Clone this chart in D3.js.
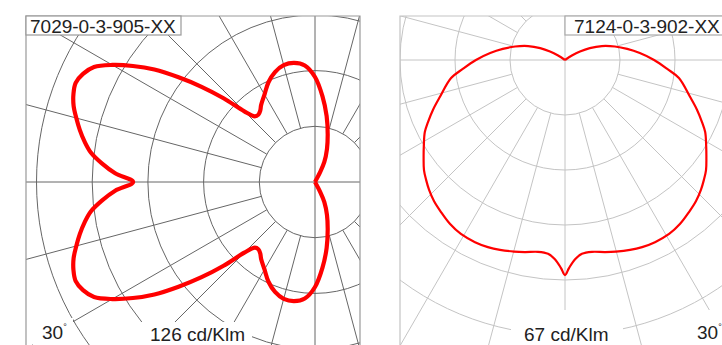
<!DOCTYPE html>
<html><head><meta charset="utf-8">
<script src="https://cdn.jsdelivr.net/npm/d3@7"></script>
<style>body{margin:0;background:#fff}svg{display:block}</style>
</head><body>
<svg id="chart" width="722" height="345"></svg>
<script>
// ---------- DATA ----------
// Left luminaire 7029-0-3-905-XX : gamma (deg, 0 = symmetry axis) -> cd/klm
const leftTitle = "7029-0-3-905-XX";
const leftScaleLabel = "126 cd/Klm";
const leftScaleMax = 126;
const leftGamma = [0,2.5,5,7.5,10,12.5,15,17.5,20,22.5,25,27.5,30,32.5,35,37.5,40,42.5,45,47.5,50,52.5,55,60,65,70,75,80,85,90,95,100,105,110,115,117.5,120];
const leftIntensity = [82.3,90.5,96.8,102.3,105.9,109.0,111.8,114.5,116.3,117.2,115.8,112.7,105.9,97.7,88.7,77.8,67.0,56.1,45.2,40.3,39.8,40.7,42.5,45.7,49.8,52.9,54.7,54.7,52.9,47.5,38.9,30.3,22.2,15.8,10.0,5.0,0];

// Right luminaire 7124-0-3-902-XX
const rightTitle = "7124-0-3-902-XX";
const rightScaleLabel = "67 cd/Klm";
const rightScaleMax = 67;
const rightGamma = [0,1.1,2.9,5.0,8.0,11.8,14.9,18.9,22.4,26.3,30.9,35.0,39.2,42.9,46.3,49.2,52.0,55.3,58.6,62.8,65.7,69.3,73.5,81.0,85.0,90,95.3,100.1,105.1,110.7,115.6,119.5,122.7,125];
const rightIntensity = [52.4,50.7,48.6,47.4,47.2,47.8,48.3,48.9,49.3,49.5,49.4,48.8,47.8,46.9,45.8,44.7,43.6,41.9,40.3,38.4,36.6,34.4,31.8,28.1,25.0,21.7,18.3,15.4,12.6,9.6,6.7,4.2,2.0,0];

const ringCount = 5;
const spokeAngles = d3.range(0, 360, 15);
const angleLabel = "30";

// ---------- DRAW ----------
const svg = d3.select("#chart");
const FONT = "'Liberation Sans', Arial, Helvetica, sans-serif";
const rad = d => d * Math.PI / 180;

function polar(cfg) {
  const g = svg.append("g");
  const clipId = "clip-" + cfg.id;
  svg.append("defs").append("clipPath").attr("id", clipId)
    .append("rect").attr("x", cfg.frame[0]).attr("y", cfg.frame[1])
    .attr("width", cfg.frame[2]).attr("height", cfg.frame[3]);
  const inner = g.append("g").attr("clip-path", `url(#${clipId})`);
  const c = inner.append("g").attr("transform", `translate(${cfg.cx},${cfg.cy})`);

  const r = d3.scaleLinear().domain([0, cfg.max]).range([0, cfg.outerR]);
  const rings = d3.range(1, ringCount + 1).map(i => cfg.max * i / ringCount);

  c.selectAll("circle.ring").data(rings).join("circle")
    .attr("r", d => r(d)).attr("fill", "none")
    .attr("stroke", cfg.grid).attr("stroke-width", cfg.gridW);
  c.selectAll("line.spoke").data(spokeAngles).join("line")
    .attr("x1", a => (a % 90 === 0 ? 0 : r(rings[0]) * Math.cos(rad(a))))
    .attr("y1", a => (a % 90 === 0 ? 0 : r(rings[0]) * Math.sin(rad(a))))
    .attr("x2", a => 600 * Math.cos(rad(a)))
    .attr("y2", a => 600 * Math.sin(rad(a)))
    .attr("stroke", cfg.grid).attr("stroke-width", cfg.gridW);

  const pts = cfg.gamma.map((gm, i) => ({gm, v: cfg.values[i]}));
  const half1 = pts.slice().reverse().map(p => [cfg.angA(p.gm), r(p.v)]);
  const half2 = pts.slice(1).map(p => [cfg.angB(p.gm), r(p.v)]);
  const line = d3.lineRadial().curve(d3.curveCatmullRom.alpha(0.5));
  c.append("path").attr("d", line(half1.concat(half2)))
    .attr("fill", "none").attr("stroke", "#ff0000")
    .attr("stroke-width", cfg.curveW).attr("stroke-linejoin", "round");

  g.append("path")
    .attr("d", cfg.framePath)
    .attr("fill", "none").attr("stroke", cfg.frameColor).attr("stroke-width", 1.2);

  cfg.boxes.forEach(b => {
    g.append("rect").attr("x", b[0]).attr("y", b[1]).attr("width", b[2]).attr("height", b[3])
      .attr("fill", "#fff").attr("stroke", b[4] || "none").attr("stroke-width", 1.2);
  });
  g.append("text").attr("x", cfg.titlePos[0]).attr("y", cfg.titlePos[1])
    .attr("font-family", FONT).attr("font-size", 19).attr("fill", "#222").text(cfg.title);
  g.append("text").attr("x", cfg.scalePos[0]).attr("y", cfg.scalePos[1])
    .attr("font-family", FONT).attr("font-size", 19).attr("fill", "#222").text(cfg.scaleLabel);
  const t = g.append("text").attr("x", cfg.angPos[0]).attr("y", cfg.angPos[1])
    .attr("font-family", FONT).attr("font-size", 19).attr("fill", "#222");
  t.append("tspan").text(angleLabel);
  t.append("tspan").attr("font-size", 9).attr("dy", -9).text("°");
}

polar({
  id: "L", cx: 315, cy: 182, outerR: 278.5, max: leftScaleMax,
  gamma: leftGamma, values: leftIntensity,
  angA: gm => rad(270 - gm), angB: gm => rad(270 + gm),
  frame: [26, 16, 334, 340],
  framePath: "M26,350V16H360V350",
  frameColor: "#999", grid: "#666", gridW: 1, curveW: 4.2,
  boxes: [[26, 16, 155, 19, "#999"], [140, 322, 112, 30], [33, 318, 40, 30]],
  title: leftTitle, titlePos: [30, 33],
  scaleLabel: leftScaleLabel, scalePos: [150, 341],
  angPos: [42, 339]
});

polar({
  id: "R", cx: 565, cy: 60, outerR: 275, max: rightScaleMax,
  gamma: rightGamma, values: rightIntensity,
  angA: gm => rad(180 + gm), angB: gm => rad(180 - gm),
  frame: [400, 16, 340, 340],
  framePath: "M400,350V16H740",
  frameColor: "#c4c4c4", grid: "#c4c4c4", gridW: 1, curveW: 2.2,
  boxes: [[565, 16, 200, 19, "#aaa"], [511, 310, 112, 40], [692, 310, 40, 40]],
  title: rightTitle, titlePos: [574, 33],
  scaleLabel: rightScaleLabel, scalePos: [524, 341],
  angPos: [697, 339]
});
</script>
</body></html>
